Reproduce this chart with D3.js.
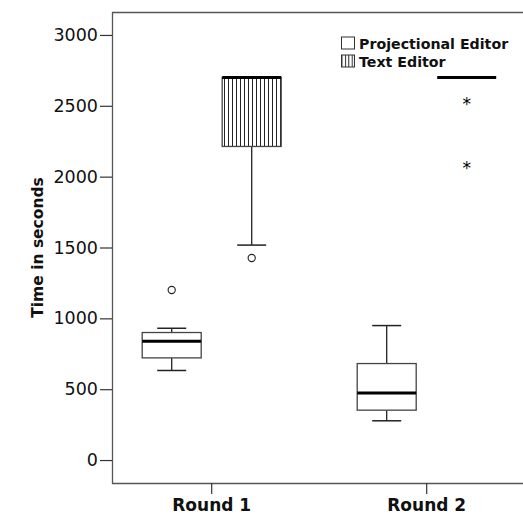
<!DOCTYPE html>
<html><head><meta charset="utf-8">
<script src="https://d3js.org/d3.v7.min.js"></script>
<style>body{margin:0;background:#fff}svg{display:block}</style>
</head><body>
<script>
const rounds = ["Round 1", "Round 2"];
const editors = ["Projectional Editor", "Text Editor"];
// values per [round][editor]
const whiskerLow  = [[632, 1517], [277, 2700]];
const q1          = [[721, 2213], [352, 2700]];
const median      = [[839, 2700], [474, 2700]];
const q3          = [[900, 2700], [681, 2700]];
const whiskerHigh = [[930, 2700], [949, 2700]];
const outliers    = [[[1200], [1426]], [[], []]];     // circles
const extremes    = [[[], []], [[], [2525, 2074]]];   // asterisks
const yTicks = [0, 500, 1000, 1500, 2000, 2500, 3000];
const yTitle = "Time in seconds";

(function () {
const W = 523, H = 520;
const mLeft = 112, mRight = 523, mTop = 12, mBottom = 483;
const svg = d3.select("body").append("svg").attr("width", W).attr("height", H);

const defs = svg.append("defs");
const pat = defs.append("pattern").attr("id", "vstripe").attr("patternUnits", "userSpaceOnUse")
  .attr("width", 4).attr("height", 10);
pat.append("rect").attr("width", 4).attr("height", 10).attr("fill", "#fff");
pat.append("line").attr("x1", 0.5).attr("x2", 0.5).attr("y1", 0).attr("y2", 10).attr("stroke", "#222").attr("stroke-width", 1);
const pat2 = defs.append("pattern").attr("id", "vstripeL").attr("patternUnits", "userSpaceOnUse")
  .attr("width", 3.4).attr("height", 10).attr("x", 341.5);
pat2.append("rect").attr("width", 3.4).attr("height", 10).attr("fill", "#fff");
pat2.append("line").attr("x1", 0.5).attr("x2", 0.5).attr("y1", 0).attr("y2", 10).attr("stroke", "#222").attr("stroke-width", 1);

const y = d3.scaleLinear().domain([-162, 3162]).range([mBottom, mTop]);
const x = d3.scaleBand().domain(rounds).range([104.2, 534.2]);
const sub = d3.scaleBand().domain(editors).range([-80, 80]);
const boxW = 59, capW = 29;

// frame
svg.append("line").attr("x1", mLeft).attr("x2", mRight).attr("y1", mTop + 0.5).attr("y2", mTop + 0.5)
  .attr("stroke", "#555").attr("stroke-width", 1.3);
svg.append("line").attr("x1", mLeft).attr("x2", mRight).attr("y1", mBottom + 0.5).attr("y2", mBottom + 0.5)
  .attr("stroke", "#555").attr("stroke-width", 1.3);

// y axis
const ya = svg.append("g").attr("transform", `translate(${mLeft},0)`)
  .call(d3.axisLeft(y).tickValues(yTicks).tickSize(12).tickPadding(2).tickFormat(d3.format("d")));
ya.select(".domain").attr("d", `M0.5,${mTop}V${mBottom + 1}`).attr("stroke", "#555").attr("stroke-width", 1.3);
ya.selectAll(".tick line").attr("stroke", "#333").attr("stroke-width", 1.2);
ya.selectAll(".tick text").attr("font-family", "DejaVu Sans").attr("font-size", 17.5).attr("fill", "#111");

// x axis
const xa = svg.append("g").attr("transform", `translate(0,${mBottom})`)
  .call(d3.axisBottom(x).tickSize(11).tickPadding(5));
xa.select(".domain").remove();
xa.selectAll(".tick line").attr("stroke", "#333").attr("stroke-width", 1.2);
xa.selectAll(".tick text").attr("font-family", "DejaVu Sans").attr("font-weight", "bold")
  .attr("font-size", 17).attr("fill", "#111");

// y title
svg.append("text").attr("transform", `translate(42.5,247.5) rotate(-90)`).attr("text-anchor", "middle")
  .attr("font-family", "DejaVu Sans").attr("font-weight", "bold").attr("font-size", 15.5).attr("fill", "#111")
  .text(yTitle);

// boxes
rounds.forEach((r, ri) => {
  editors.forEach((e, ei) => {
    const cx = x(r) + x.bandwidth() / 2 + sub(e) + sub.bandwidth() / 2;
    const g = svg.append("g");
    const lo = whiskerLow[ri][ei], hi = whiskerHigh[ri][ei];
    const b1 = q1[ri][ei], b3 = q3[ri][ei], md = median[ri][ei];
    if (lo < b1) {
      g.append("line").attr("x1", cx).attr("x2", cx).attr("y1", y(b1)).attr("y2", y(lo)).attr("stroke", "#222").attr("stroke-width", 1.3);
      g.append("line").attr("x1", cx - capW / 2).attr("x2", cx + capW / 2).attr("y1", y(lo)).attr("y2", y(lo)).attr("stroke", "#222").attr("stroke-width", 1.5);
    }
    if (hi > b3) {
      g.append("line").attr("x1", cx).attr("x2", cx).attr("y1", y(b3)).attr("y2", y(hi)).attr("stroke", "#222").attr("stroke-width", 1.3);
      g.append("line").attr("x1", cx - capW / 2).attr("x2", cx + capW / 2).attr("y1", y(hi)).attr("y2", y(hi)).attr("stroke", "#222").attr("stroke-width", 1.5);
    }
    if (b3 > b1) {
      g.append("rect").attr("x", cx - boxW / 2).attr("y", y(b3)).attr("width", boxW).attr("height", y(b1) - y(b3))
        .attr("fill", ei === 1 ? "url(#vstripe)" : "#fff").attr("stroke", "#444").attr("stroke-width", 1.3);
    }
    g.append("line").attr("x1", cx - boxW / 2).attr("x2", cx + boxW / 2).attr("y1", y(md)).attr("y2", y(md))
      .attr("stroke", "#000").attr("stroke-width", 3);
    outliers[ri][ei].forEach(v => {
      g.append("circle").attr("cx", cx).attr("cy", y(v)).attr("r", 3.6).attr("fill", "#fff").attr("stroke", "#222").attr("stroke-width", 1.1);
    });
    extremes[ri][ei].forEach(v => {
      g.append("text").attr("x", cx).attr("y", y(v) + 8).attr("text-anchor", "middle")
        .attr("font-family", "DejaVu Sans").attr("font-size", 17).attr("fill", "#000").text("*");
    });
  });
});

// legend
const lg = svg.append("g");
editors.forEach((e, i) => {
  const yy = 37 + i * 18;
  lg.append("rect").attr("x", 341.5).attr("y", yy).attr("width", 13).attr("height", 12)
    .attr("fill", i === 1 ? "url(#vstripeL)" : "#fff").attr("stroke", "#333").attr("stroke-width", 1);
  lg.append("text").attr("x", 359).attr("y", yy + 11.5).attr("font-family", "DejaVu Sans").attr("font-weight", "bold")
    .attr("font-size", 14.2).attr("fill", "#111").text(e);
});
})();
</script>
</body></html>
